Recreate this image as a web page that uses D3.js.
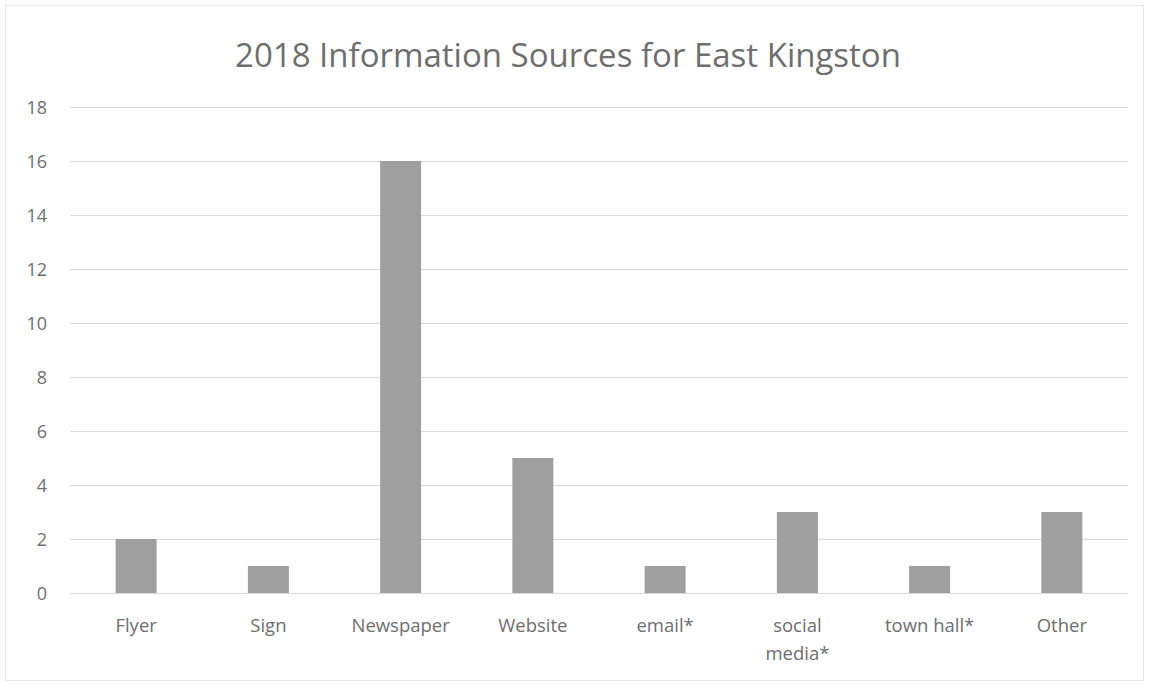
<!DOCTYPE html>
<html>
<head>
<meta charset="utf-8">
<script src="https://cdn.jsdelivr.net/npm/d3@7"></script>
<style>
  html, body { margin: 0; padding: 0; background: #fff; }
  svg { display: block; }
  svg text { font-family: "Open Sans", Lato, sans-serif; }
</style>
</head>
<body>
<svg id="chart" width="1149" height="684"></svg>
<script>
// Survey responses: where residents heard about town information
const categories = ["Flyer", "Sign", "Newspaper", "Website", "email*", "social media*", "town hall*", "Other"];
const responses = [2, 1, 16, 5, 1, 3, 1, 3];
const yTicks = [0, 2, 4, 6, 8, 10, 12, 14, 16, 18];
const titleText = "2018 Information Sources for East Kingston";

const svg = d3.select("#chart");
const W = 1149, H = 684;
const margin = { top: 107, right: 21, bottom: 91, left: 70 };
const textColor = "#6e6e6e";

// faint outer frame of the chart area
svg.append("rect")
  .attr("x", 5.5).attr("y", 5.5)
  .attr("width", W - 11).attr("height", H - 9)
  .attr("fill", "none").attr("stroke", "#e6e6e6").attr("stroke-width", 1);

const x = d3.scaleBand()
  .domain(categories)
  .range([margin.left, W - margin.right])
  .paddingInner(0.69)
  .paddingOuter(0.345);

const y = d3.scaleLinear()
  .domain([0, 18])
  .range([H - margin.bottom, margin.top]);

// horizontal gridlines
svg.append("g")
  .selectAll("line")
  .data(yTicks)
  .join("line")
  .attr("x1", margin.left)
  .attr("x2", W - margin.right)
  .attr("y1", d => Math.round(y(d)) + 0.5)
  .attr("y2", d => Math.round(y(d)) + 0.5)
  .attr("stroke", "#d9d9d9")
  .attr("stroke-width", 1);

// y axis labels
const yAxis = d3.axisLeft(y).tickValues(yTicks).tickSize(0).tickPadding(0);
const gy = svg.append("g")
  .attr("transform", `translate(${margin.left - 23},0)`)
  .call(yAxis)
  .attr("font-family", null);
gy.select(".domain").remove();
gy.selectAll("text")
  .attr("fill", textColor)
  .attr("dy", "0.34em")
  .style("font-size", "18px");

// bars
svg.append("g")
  .selectAll("rect")
  .data(categories.map((c, i) => ({ c, v: responses[i] })))
  .join("rect")
  .attr("x", d => x(d.c))
  .attr("width", x.bandwidth())
  .attr("y", d => y(d.v))
  .attr("height", d => y(0) - y(d.v))
  .attr("fill", "#9f9f9f");

// category labels, wrapped onto two lines where needed
const xAxis = d3.axisBottom(x).tickSize(0).tickPadding(0);
const gx = svg.append("g")
  .attr("transform", `translate(0,${y(0)})`)
  .call(xAxis)
  .attr("font-family", null);
gx.select(".domain").remove();
gx.selectAll("text")
  .attr("fill", textColor)
  .style("font-size", "18.5px")
  .attr("y", 0)
  .attr("dy", null)
  .each(function (d) {
    const t = d3.select(this);
    t.text(null);
    const lines = d === "social media*" ? ["social", "media*"] : [d];
    lines.forEach((ln, i) => {
      t.append("tspan")
        .attr("x", 0)
        .attr("y", 39 + i * 28)
        .text(ln);
    });
  });

// title
svg.append("text")
  .attr("x", 568)
  .attr("y", 67)
  .attr("text-anchor", "middle")
  .attr("fill", textColor)
  .style("font-size", "33px")
  .text(titleText);
</script>
</body>
</html>
